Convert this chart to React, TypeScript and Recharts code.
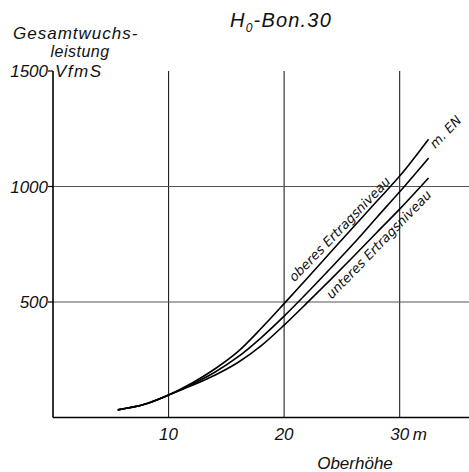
import React from "react";
import {
  LineChart,
  Line,
  XAxis,
  YAxis,
  ReferenceLine,
  ReferenceDot,
  Customized,
} from "recharts";

// Oberhöhe (m)
const heights = [5.6, 8, 10, 12, 14, 16, 18, 20, 22, 24, 26, 28, 30, 32.5];
// Gesamtwuchsleistung (VfmS)
const oberes = [33, 58, 97, 148, 210, 285, 385, 493, 603, 714, 825, 935, 1045, 1205];
const mittleres = [33, 58, 97, 143, 196, 262, 345, 439, 540, 645, 752, 865, 977, 1123];
const unteres = [33, 58, 97, 138, 183, 238, 310, 400, 497, 596, 697, 800, 902, 1037];

const xTicks = [10, 20, 30];
const yTicks = [500, 1000, 1500];
const xGrid = [10, 20, 30];
const yGrid = [500, 1000];

const data = heights.map((h, i) => ({
  h,
  oberes: oberes[i],
  mittleres: mittleres[i],
  unteres: unteres[i],
}));

const FONT = "'Liberation Sans', Arial, sans-serif";
const FONT2 = "'DejaVu Sans', sans-serif";
const textStyle: React.CSSProperties = {
  fontFamily: FONT,
  fontStyle: "italic",
  fill: "#111",
};
const labelStyle: React.CSSProperties = {
  fontFamily: FONT2,
  fontStyle: "oblique",
  fill: "#111",
};

const XTick = (props: any) => {
  const { x, y, payload } = props;
  return (
    <g>
      <text x={x} y={y + 22} textAnchor="middle" fontSize={17} style={textStyle}>
        {payload.value}
      </text>
      {payload.value === 30 && (
        <text x={x + 13} y={y + 22} textAnchor="start" fontSize={17} style={textStyle}>
          m
        </text>
      )}
    </g>
  );
};

const YTick = (props: any) => {
  const { y, payload } = props;
  return (
    <text x={48} y={y} dy="0.36em" textAnchor="end" fontSize={17} style={textStyle}>
      {payload.value}
    </text>
  );
};

const curveLabel = (text: string, dy: number, size: number) => (props: any) => {
  const vb = props.viewBox || {};
  const cx = vb.x + (vb.width || 0) / 2;
  const cy = vb.y + (vb.height || 0) / 2;
  return (
    <text
      transform={`translate(${cx},${cy}) rotate(-46)`}
      x={0}
      y={dy}
      textAnchor="middle"
      fontSize={size}
      style={labelStyle}
    >
      {text}
    </text>
  );
};

const Titles = () => (
  <g>
    <text x={230} y={27} fontSize={20} letterSpacing={1.2} style={textStyle}>
      H
      <tspan fontSize={12} dy={5}>
        0
      </tspan>
      <tspan fontSize={20} dy={-5}>
        -Bon.30
      </tspan>
    </text>
    <text x={13} y={39} fontSize={17} letterSpacing={1} style={textStyle}>
      Gesamtwuchs-
    </text>
    <text x={80} y={57} textAnchor="middle" fontSize={16} letterSpacing={0.5} style={textStyle}>
      leistung
    </text>
    <text x={55} y={77} fontSize={17} letterSpacing={1.5} style={textStyle}>
      VfmS
    </text>
    <text x={355} y={469} textAnchor="middle" fontSize={17} style={textStyle}>
      Oberhöhe
    </text>
  </g>
);

export default function App() {
  return (
    <div style={{ position: "absolute", left: 0, top: 0, background: "#fff" }}>
      <LineChart
        width={469}
        height={472}
        data={data}
        margin={{ top: 71, right: 0, bottom: 0, left: 0 }}
      >
        <XAxis
          dataKey="h"
          type="number"
          domain={[0, 36]}
          ticks={xTicks}
          tick={<XTick />}
          tickLine={false}
          tickSize={0}
          tickMargin={0}
          height={54.5}
          axisLine={{ stroke: "#000", strokeWidth: 1.6 }}
          allowDataOverflow
        />
        <YAxis
          type="number"
          domain={[0, 1500]}
          ticks={yTicks}
          tick={<YTick />}
          tickSize={5}
          tickLine={{ stroke: "#000", strokeWidth: 1.2 }}
          width={53}
          axisLine={{ stroke: "#000", strokeWidth: 1.6 }}
          allowDataOverflow
        />
        {xGrid.map((v) => (
          <ReferenceLine key={"x" + v} x={v} stroke="#222" strokeWidth={1.1} />
        ))}
        {yGrid.map((v) => (
          <ReferenceLine key={"y" + v} y={v} stroke="#555" strokeWidth={1} />
        ))}
        <Line
          type="monotone"
          dataKey="oberes"
          stroke="#000"
          strokeWidth={1.6}
          dot={false}
          isAnimationActive={false}
        />
        <Line
          type="monotone"
          dataKey="mittleres"
          stroke="#000"
          strokeWidth={1.6}
          dot={false}
          isAnimationActive={false}
        />
        <Line
          type="monotone"
          dataKey="unteres"
          stroke="#000"
          strokeWidth={1.6}
          dot={false}
          isAnimationActive={false}
        />
        <ReferenceDot
          x={25.4}
          y={787}
          r={0}
          fill="none"
          stroke="none"
          label={{ content: curveLabel("oberes Ertragsniveau", -5, 13) }}
        />
        <ReferenceDot
          x={27.6}
          y={778}
          r={0}
          fill="none"
          stroke="none"
          label={{ content: curveLabel("unteres Ertragsniveau", 14, 13) }}
        />
        <ReferenceDot
          x={34}
          y={1235}
          r={0}
          fill="none"
          stroke="none"
          label={{ content: curveLabel("m. EN", 4, 13) }}
        />
        <Customized component={Titles} />
      </LineChart>
    </div>
  );
}
